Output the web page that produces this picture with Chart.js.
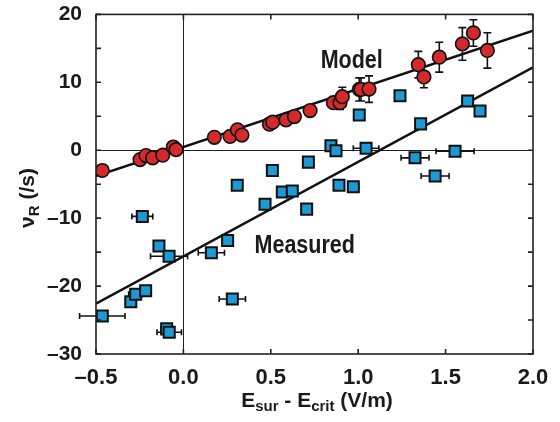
<!DOCTYPE html>
<html>
<head>
<meta charset="utf-8">
<script src="https://cdn.jsdelivr.net/npm/chart.js@4/dist/chart.umd.min.js"></script>
<style>
  body { margin: 0; background: #fff; }
  #wrap { width: 560px; height: 422px; }
</style>
</head>
<body>
<div id="wrap"><canvas id="myChart" width="560" height="422"></canvas></div>
<script>
// model points (red circles), with vertical error bars
const modelX = [-0.464, -0.248, -0.214, -0.176, -0.118, -0.058, -0.042, 0.177, 0.267, 0.309, 0.335,
    0.492, 0.511, 0.587, 0.635, 0.725, 0.858, 0.896, 0.909, 1.006, 1.016, 1.062,
    1.344, 1.376, 1.464, 1.596, 1.659, 1.739];
const modelY = [-2.98, -1.37, -0.79, -1.12, -0.73, 0.48, 0.09, 1.9, 2.04, 3.0, 2.23,
    3.84, 4.13, 4.47, 4.96, 5.84, 7.0, 7.0, 7.88, 8.95, 8.95, 9.0,
    12.6, 10.8, 13.7, 15.66, 17.27, 14.69];
const modelYErr = [0, 0, 0, 0, 0, 0, 0, 0, 0, 0, 0,
    0, 0, 0, 0, 0.6, 0.8, 1.0, 1.4, 1.7, 1.7, 1.95,
    1.95, 1.6, 2.2, 2.4, 1.95, 2.6];

// measured points (blue squares), with horizontal error bars
const measX = [-0.464, -0.301, -0.273, -0.235, -0.216, -0.14, -0.096, -0.082, -0.081, 0.16, 0.253,
    0.28, 0.308, 0.467, 0.509, 0.566, 0.623, 0.705, 0.715, 0.844, 0.873, 0.89, 0.972,
    1.006, 1.045, 1.239, 1.325, 1.357, 1.44, 1.554, 1.626, 1.697];
const measY = [-24.4, -22.3, -21.2, -9.74, -20.7, -14.1, -26.3, -15.6, -26.8, -15.1, -13.3,
    -21.9, -5.17, -7.94, -2.98, -6.14, -5.99, -8.67, -1.75, 0.67, -0.06, -5.17, -5.36,
    5.2, 0.29, 8.03, -1.12, 3.88, -3.8, -0.15, 7.24, 5.78];
const measXErr = [0.13, 0.03, 0.04, 0.06, 0.03, 0, 0.03, 0.106, 0.07, 0.075, 0.03,
    0.075, 0, 0, 0, 0, 0, 0, 0, 0, 0, 0, 0.03,
    0, 0.073, 0, 0.08, 0, 0.08, 0.109, 0.03, 0.02];

// fitted lines
const modelLineX = [-0.5, 2.0];
const modelLineY = [-3.8, 17.6];
const measLineX = [-0.5, 2.0];
const measLineY = [-22.6, 12.2];

const xTicks = [-0.5, 0, 0.5, 1.0, 1.5, 2.0];
const yTicks = [-30, -20, -10, 0, 10, 20];

function pts(xs, ys) {
    return xs.map((x, i) => ({x: x, y: ys[i]}));
}
function minus(s) {
    return s.replace('-', '\u2013');
}

const RED = '#d52a2b';
const BLUE = '#1d9ad6';

// frame, inward ticks, zero lines, error bars, axis titles and labels
const decor = {
    id: 'decor',
    beforeDatasetsDraw(chart) {
        const ctx = chart.ctx, a = chart.chartArea;
        const x = chart.scales.x, y = chart.scales.y;
        ctx.save();
        ctx.strokeStyle = '#222';
        ctx.lineWidth = 1;
        const x0 = Math.round(x.getPixelForValue(0)) + 0.5;
        const y0 = Math.round(y.getPixelForValue(0)) + 0.5;
        ctx.beginPath();
        ctx.moveTo(x0, a.top); ctx.lineTo(x0, a.bottom);
        ctx.moveTo(a.left, y0); ctx.lineTo(a.right, y0);
        ctx.stroke();

        ctx.strokeStyle = '#111';
        ctx.lineWidth = 1.6;
        ctx.beginPath();
        modelX.forEach((mx, i) => {
            const e = modelYErr[i];
            if (!e) return;
            const px = x.getPixelForValue(mx);
            const t = y.getPixelForValue(modelY[i] + e);
            const b = y.getPixelForValue(modelY[i] - e);
            ctx.moveTo(px, t); ctx.lineTo(px, b);
            ctx.moveTo(px - 4, t); ctx.lineTo(px + 4, t);
            ctx.moveTo(px - 4, b); ctx.lineTo(px + 4, b);
        });
        measX.forEach((mx, i) => {
            const e = measXErr[i];
            if (!e) return;
            const py = y.getPixelForValue(measY[i]);
            const l = x.getPixelForValue(mx - e);
            const r = x.getPixelForValue(mx + e);
            ctx.moveTo(l, py); ctx.lineTo(r, py);
            ctx.moveTo(l, py - 3); ctx.lineTo(l, py + 3);
            ctx.moveTo(r, py - 3); ctx.lineTo(r, py + 3);
        });
        ctx.stroke();
        ctx.restore();
    },
    afterDraw(chart) {
        const ctx = chart.ctx, a = chart.chartArea;
        const x = chart.scales.x, y = chart.scales.y;
        ctx.save();
        ctx.strokeStyle = '#222';
        ctx.lineWidth = 1.6;
        ctx.strokeRect(a.left, a.top, a.right - a.left, a.bottom - a.top);
        ctx.beginPath();
        for (let v = -0.5; v <= 2.0001; v += 0.5) {
            const px = x.getPixelForValue(v);
            ctx.moveTo(px, a.bottom); ctx.lineTo(px, a.bottom - 5);
            ctx.moveTo(px, a.top); ctx.lineTo(px, a.top + 5);
        }
        for (let v = -30; v <= 20; v += 5) {
            const py = y.getPixelForValue(v);
            ctx.moveTo(a.left, py); ctx.lineTo(a.left + 5, py);
            ctx.moveTo(a.right, py); ctx.lineTo(a.right - 5, py);
        }
        ctx.stroke();

        ctx.fillStyle = '#1a1a1a';
        ctx.textBaseline = 'alphabetic';

        // in-plot labels, condensed bold
        const cond = (txt, vx, vy) => {
            ctx.save();
            ctx.translate(x.getPixelForValue(vx), y.getPixelForValue(vy));
            ctx.scale(0.86, 1);
            ctx.font = 'bold 25px "Liberation Sans", Arial, sans-serif';
            ctx.textAlign = 'center';
            ctx.fillText(txt, 0, 9);
            ctx.restore();
        };
        cond('Model', 0.963, 13.5);
        cond('Measured', 0.694, -13.8);

        // rich text with subscripts
        const runs = (parts) => {
            let w = 0;
            parts.forEach(p => { ctx.font = p.f; w += ctx.measureText(p.t).width; });
            return w;
        };
        const drawRuns = (parts, sx, by) => {
            let cx = sx;
            parts.forEach(p => {
                ctx.font = p.f;
                ctx.textAlign = 'left';
                ctx.fillText(p.t, cx, by + (p.dy || 0));
                cx += ctx.measureText(p.t).width;
            });
        };
        const big = 'bold 21px "Liberation Sans", Arial, sans-serif';
        const sub = 'bold 15px "Liberation Sans", Arial, sans-serif';

        const xt = [
            {t: 'E', f: big}, {t: 'sur', f: sub, dy: 4},
            {t: ' - E', f: big}, {t: 'crit', f: sub, dy: 4},
            {t: ' (V/m)', f: big}
        ];
        const wx = runs(xt);
        drawRuns(xt, 317 - wx / 2, 407);

        const yt = [
            {t: '\u03bd', f: big}, {t: 'R', f: sub, dy: 5},
            {t: ' (/s)', f: big}
        ];
        const wy = runs(yt);
        ctx.save();
        ctx.translate(34, 198);
        ctx.rotate(-Math.PI / 2);
        drawRuns(yt, -wy / 2, 0);
        ctx.restore();

        ctx.restore();
    }
};

const ctx = document.getElementById('myChart').getContext('2d');
new Chart(ctx, {
    type: 'scatter',
    data: {
        datasets: [
            {
                label: 'Model',
                data: pts(modelX, modelY),
                pointStyle: 'circle',
                pointRadius: 6.8,
                backgroundColor: RED,
                borderColor: '#111',
                borderWidth: 1.6,
                order: 0
            },
            {
                label: 'Measured',
                data: pts(measX, measY),
                pointStyle: 'rect',
                pointRadius: 7.8,
                backgroundColor: BLUE,
                borderColor: '#111',
                borderWidth: 2,
                order: 0
            },
            {
                label: 'Model fit',
                data: pts(modelLineX, modelLineY),
                showLine: true,
                pointRadius: 0,
                borderColor: '#111',
                borderWidth: 2.4,
                order: 1
            },
            {
                label: 'Measured fit',
                data: pts(measLineX, measLineY),
                showLine: true,
                pointRadius: 0,
                borderColor: '#111',
                borderWidth: 2.4,
                order: 1
            }
        ]
    },
    options: {
        responsive: false,
        animation: false,
        layout: { padding: { left: 0, right: 27, top: 10, bottom: 0 } },
        plugins: {
            legend: { display: false },
            tooltip: { enabled: false }
        },
        scales: {
            x: {
                type: 'linear',
                min: -0.5,
                max: 2.0,
                afterBuildTicks: s => { s.ticks = xTicks.map(v => ({value: v})); },
                afterFit: s => { s.height = 68; },
                grid: { display: false },
                border: { display: false },
                ticks: {
                    padding: 5,
                    color: '#1a1a1a',
                    font: { family: '"Liberation Sans", Arial, sans-serif', size: 22, weight: 'bold', lineHeight: 1 },
                    callback: v => minus(Number(v).toFixed(1))
                }
            },
            y: {
                type: 'linear',
                min: -30,
                max: 20,
                afterBuildTicks: s => { s.ticks = yTicks.map(v => ({value: v})); },
                afterFit: s => { s.width = 96; },
                grid: { display: false },
                border: { display: false },
                ticks: {
                    padding: 6,
                    color: '#1a1a1a',
                    font: { family: '"Liberation Sans", Arial, sans-serif', size: 21, weight: 'bold', lineHeight: 0.8 },
                    callback: v => minus(String(v))
                }
            }
        }
    },
    plugins: [decor]
});
</script>
</body>
</html>
